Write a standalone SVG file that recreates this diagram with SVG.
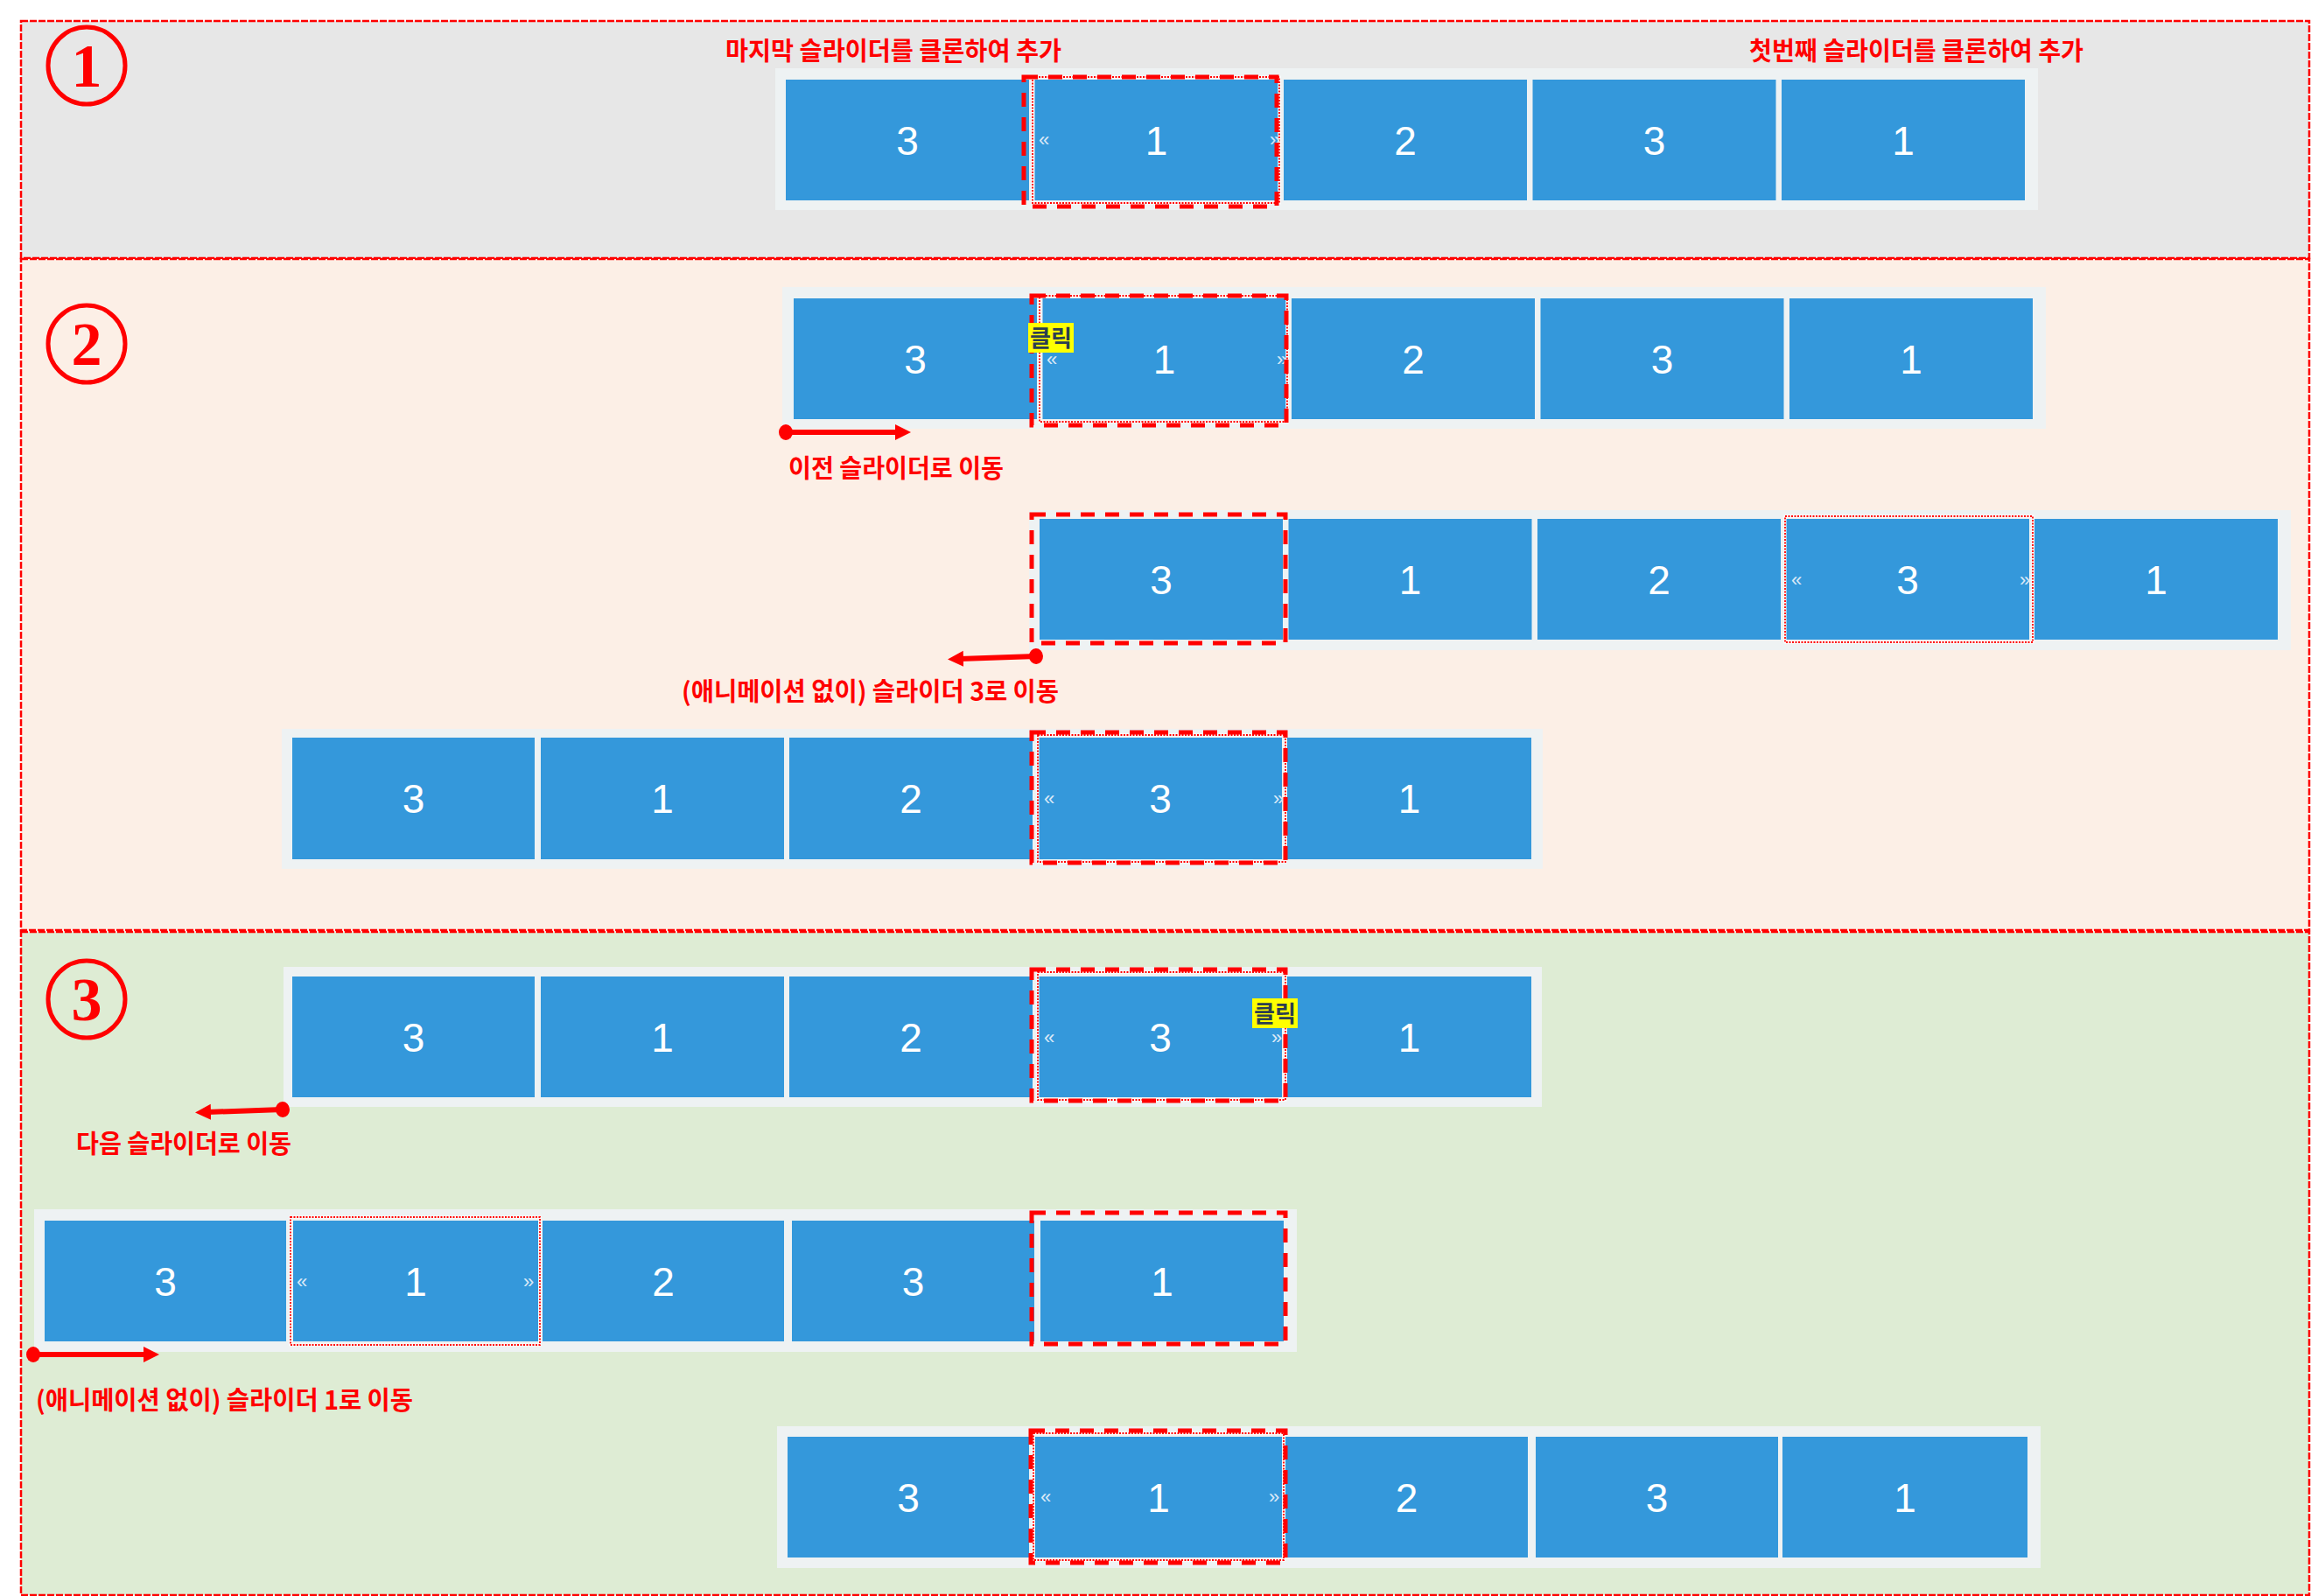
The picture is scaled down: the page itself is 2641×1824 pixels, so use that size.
<svg xmlns="http://www.w3.org/2000/svg" width="2641" height="1824" viewBox="0 0 2641 1824">
<style>
.sec{stroke:#ff0000;stroke-width:2.5;stroke-dasharray:8 2}
.track{fill:#eef2f3}
.slide{fill:#3498db}
.num{font-family:"Liberation Sans",Arial,sans-serif;font-size:46px;fill:#ffffff;text-anchor:middle}
.chev{font-family:"Liberation Sans",Arial,sans-serif;font-size:22px;fill:#dbe9f7}
.view{fill:none;stroke:#ff0000;stroke-width:5;stroke-dasharray:16 12}
.activeW{fill:none;stroke:#ffffff;stroke-width:3}
.activeR{fill:none;stroke:#ff0000;stroke-width:1.8;stroke-dasharray:2 1.5}
.lbl{font-family:"Noto Sans CJK KR","Liberation Sans",sans-serif;font-weight:bold;font-size:29px;fill:#ff0000}
.circ{fill:none;stroke:#ff0000;stroke-width:5}
.cnum{font-family:"Liberation Serif","Times New Roman",serif;font-weight:bold;font-size:70px;fill:#ff0000;text-anchor:middle}
.click{fill:#ffff00}
.clickT{font-family:"Noto Sans CJK KR",sans-serif;font-weight:bold;font-size:26px;fill:#2c3e50}
.arrow{stroke:#ff0000;stroke-width:6;fill:none;marker-start:url(#dot);marker-end:url(#head)}
</style>
<defs>
<marker id="head" markerUnits="userSpaceOnUse" markerWidth="20" markerHeight="20" refX="4" refY="9" orient="auto"><path d="M0,0 L18,9 L0,18 Z" fill="#ff0000"/></marker>
<marker id="dot" markerUnits="userSpaceOnUse" markerWidth="20" markerHeight="20" refX="10" refY="10" orient="auto"><ellipse cx="10" cy="10" rx="8" ry="9" fill="#ff0000"/></marker>
</defs>

<g id="sections">
<rect id="section1" class="sec" x="24" y="24" width="2615" height="271" fill="#e7e7e7"/>
<rect id="section2" class="sec" x="24" y="296" width="2615" height="767" fill="#fcefe6"/>
<rect id="section3" class="sec" x="24" y="1065" width="2615" height="758" fill="#deecd4"/>
</g>

<g id="step-markers">
<g id="step1"><circle class="circ" cx="99" cy="75" r="44"/><text class="cnum" x="99" y="99">1</text></g>
<g id="step2"><circle class="circ" cx="99" cy="393" r="44"/><text class="cnum" x="99" y="417">2</text></g>
<g id="step3"><circle class="circ" cx="99" cy="1142" r="44"/><text class="cnum" x="99" y="1166">3</text></g>
</g>

<!-- Row 1 -->
<g id="row1">
<rect class="track" x="886" y="78" width="1443" height="162"/>
<rect class="slide" x="898" y="91" width="278" height="138"/><text class="num" x="1037" y="177">3</text>
<rect class="slide" x="1182.5" y="91" width="278" height="138"/><text class="num" x="1321.5" y="177">1</text>
<rect class="slide" x="1467" y="91" width="278" height="138"/><text class="num" x="1606" y="177">2</text>
<rect class="slide" x="1751.5" y="91" width="278" height="138"/><text class="num" x="1890.5" y="177">3</text>
<rect class="slide" x="2036" y="91" width="278" height="138"/><text class="num" x="2175" y="177">1</text>
<rect class="activeW" x="1180" y="88" width="282" height="144"/>
<rect class="activeR" x="1180" y="88" width="282" height="144"/>
<text class="chev" x="1187" y="167">«</text><text class="chev" x="1451" y="167">»</text>
<rect class="view" x="1170" y="88" width="289" height="148"/>
</g>

<!-- Row 2a -->
<g id="row2a">
<rect class="track" x="894" y="328" width="1444" height="162"/>
<rect class="slide" x="907" y="341" width="278" height="138"/><text class="num" x="1046" y="427">3</text>
<rect class="slide" x="1191.5" y="341" width="278" height="138"/><text class="num" x="1330.5" y="427">1</text>
<rect class="slide" x="1476" y="341" width="278" height="138"/><text class="num" x="1615" y="427">2</text>
<rect class="slide" x="1760.5" y="341" width="278" height="138"/><text class="num" x="1899.5" y="427">3</text>
<rect class="slide" x="2045" y="341" width="278" height="138"/><text class="num" x="2184" y="427">1</text>
<rect class="activeW" x="1188" y="338" width="283" height="144"/>
<rect class="activeR" x="1188" y="338" width="283" height="144"/>
<text class="chev" x="1196" y="418">«</text><text class="chev" x="1459" y="418">»</text>
<rect class="view" x="1179" y="338" width="291" height="148"/>
<g id="click1"><rect class="click" x="1175" y="369" width="52" height="34"/><text class="clickT" x="1201" y="396" text-anchor="middle" textLength="48" lengthAdjust="spacingAndGlyphs">클릭</text></g>
</g>

<!-- Row 2b -->
<g id="row2b">
<rect class="track" x="1176" y="583" width="1442" height="160"/>
<rect class="slide" x="1188" y="593" width="278" height="138"/><text class="num" x="1327" y="679">3</text>
<rect class="slide" x="1472.5" y="593" width="278" height="138"/><text class="num" x="1611.5" y="679">1</text>
<rect class="slide" x="1757" y="593" width="278" height="138"/><text class="num" x="1896" y="679">2</text>
<rect class="slide" x="2041" y="593" width="278" height="138"/><text class="num" x="2180" y="679">3</text>
<rect class="slide" x="2325" y="593" width="278" height="138"/><text class="num" x="2464" y="679">1</text>
<rect class="activeW" x="2040" y="590" width="283" height="144"/>
<rect class="activeR" x="2040" y="590" width="283" height="144"/>
<text class="chev" x="2047" y="670">«</text><text class="chev" x="2308" y="670">»</text>
<rect class="view" x="1179" y="588" width="290" height="147"/>
</g>

<!-- Row 2c -->
<g id="row2c">
<rect class="track" x="322" y="833" width="1441" height="160"/>
<rect class="slide" x="334" y="843" width="277" height="139"/><text class="num" x="472.5" y="929">3</text>
<rect class="slide" x="618" y="843" width="278" height="139"/><text class="num" x="757" y="929">1</text>
<rect class="slide" x="902" y="843" width="278" height="139"/><text class="num" x="1041" y="929">2</text>
<rect class="slide" x="1187" y="843" width="278" height="139"/><text class="num" x="1326" y="929">3</text>
<rect class="slide" x="1471" y="843" width="279" height="139"/><text class="num" x="1610.5" y="929">1</text>
<rect class="activeW" x="1186" y="840" width="283" height="145"/>
<rect class="activeR" x="1186" y="840" width="283" height="145"/>
<text class="chev" x="1193" y="920">«</text><text class="chev" x="1455" y="920">»</text>
<rect class="view" x="1179" y="837" width="290" height="149"/>
</g>

<!-- Row 3a -->
<g id="row3a">
<rect class="track" x="324" y="1105" width="1438" height="160"/>
<rect class="slide" x="334" y="1116" width="277" height="138"/><text class="num" x="472.5" y="1202">3</text>
<rect class="slide" x="618" y="1116" width="278" height="138"/><text class="num" x="757" y="1202">1</text>
<rect class="slide" x="902" y="1116" width="278" height="138"/><text class="num" x="1041" y="1202">2</text>
<rect class="slide" x="1187" y="1116" width="278" height="138"/><text class="num" x="1326" y="1202">3</text>
<rect class="slide" x="1471" y="1116" width="279" height="138"/><text class="num" x="1610.5" y="1202">1</text>
<rect class="activeW" x="1186" y="1111" width="283" height="146"/>
<rect class="activeR" x="1186" y="1111" width="283" height="146"/>
<text class="chev" x="1193" y="1193">«</text><text class="chev" x="1453" y="1193">»</text>
<rect class="view" x="1179" y="1108" width="290" height="150"/>
<g id="click2"><rect class="click" x="1431" y="1141" width="52" height="34"/><text class="clickT" x="1457" y="1168" text-anchor="middle" textLength="48" lengthAdjust="spacingAndGlyphs">클릭</text></g>
</g>

<!-- Row 3b -->
<g id="row3b">
<rect class="track" x="39" y="1382" width="1443" height="163"/>
<rect class="slide" x="51" y="1395" width="276" height="138"/><text class="num" x="189" y="1481">3</text>
<rect class="slide" x="335" y="1395" width="280" height="138"/><text class="num" x="475" y="1481">1</text>
<rect class="slide" x="620" y="1395" width="276" height="138"/><text class="num" x="758" y="1481">2</text>
<rect class="slide" x="905" y="1395" width="277" height="138"/><text class="num" x="1043.5" y="1481">3</text>
<rect class="slide" x="1189" y="1395" width="278" height="138"/><text class="num" x="1328" y="1481">1</text>
<rect class="activeW" x="332" y="1391" width="285" height="146"/>
<rect class="activeR" x="332" y="1391" width="285" height="146"/>
<text class="chev" x="339" y="1472">«</text><text class="chev" x="598" y="1472">»</text>
<rect class="view" x="1179" y="1386" width="290" height="150"/>
</g>

<!-- Row 3c -->
<g id="row3c">
<rect class="track" x="888" y="1630" width="1444" height="162"/>
<rect class="slide" x="900" y="1642" width="276" height="138"/><text class="num" x="1038" y="1728">3</text>
<rect class="slide" x="1183" y="1642" width="282" height="138"/><text class="num" x="1324" y="1728">1</text>
<rect class="slide" x="1469" y="1642" width="277" height="138"/><text class="num" x="1607.5" y="1728">2</text>
<rect class="slide" x="1755" y="1642" width="277" height="138"/><text class="num" x="1893.5" y="1728">3</text>
<rect class="slide" x="2037" y="1642" width="280" height="138"/><text class="num" x="2177" y="1728">1</text>
<rect class="activeW" x="1181" y="1638" width="286" height="145"/>
<rect class="activeR" x="1181" y="1638" width="286" height="145"/>
<text class="chev" x="1189" y="1718">«</text><text class="chev" x="1450" y="1718">»</text>
<rect class="view" x="1178" y="1635" width="291" height="151"/>
</g>

<g id="labels">
<text class="lbl" x="829" y="69" textLength="384" lengthAdjust="spacingAndGlyphs">마지막 슬라이더를 클론하여 추가</text>
<text class="lbl" x="1999" y="69" textLength="382" lengthAdjust="spacingAndGlyphs">첫번째 슬라이더를 클론하여 추가</text>
<text class="lbl" x="901" y="546" textLength="246" lengthAdjust="spacingAndGlyphs">이전 슬라이더로 이동</text>
<text class="lbl" x="779" y="801" textLength="431" lengthAdjust="spacingAndGlyphs">(애니메이션 없이) 슬라이더 3로 이동</text>
<text class="lbl" x="87" y="1318" textLength="246" lengthAdjust="spacingAndGlyphs">다음 슬라이더로 이동</text>
<text class="lbl" x="41" y="1611" textLength="431" lengthAdjust="spacingAndGlyphs">(애니메이션 없이) 슬라이더 1로 이동</text>
</g>

<g id="connectors">
<line class="arrow" x1="898" y1="494" x2="1027" y2="494"/>
<line class="arrow" x1="1184" y1="750" x2="1097" y2="753"/>
<line class="arrow" x1="323" y1="1268" x2="237" y2="1271"/>
<line class="arrow" x1="38" y1="1548" x2="168" y2="1548"/>
</g>
</svg>
